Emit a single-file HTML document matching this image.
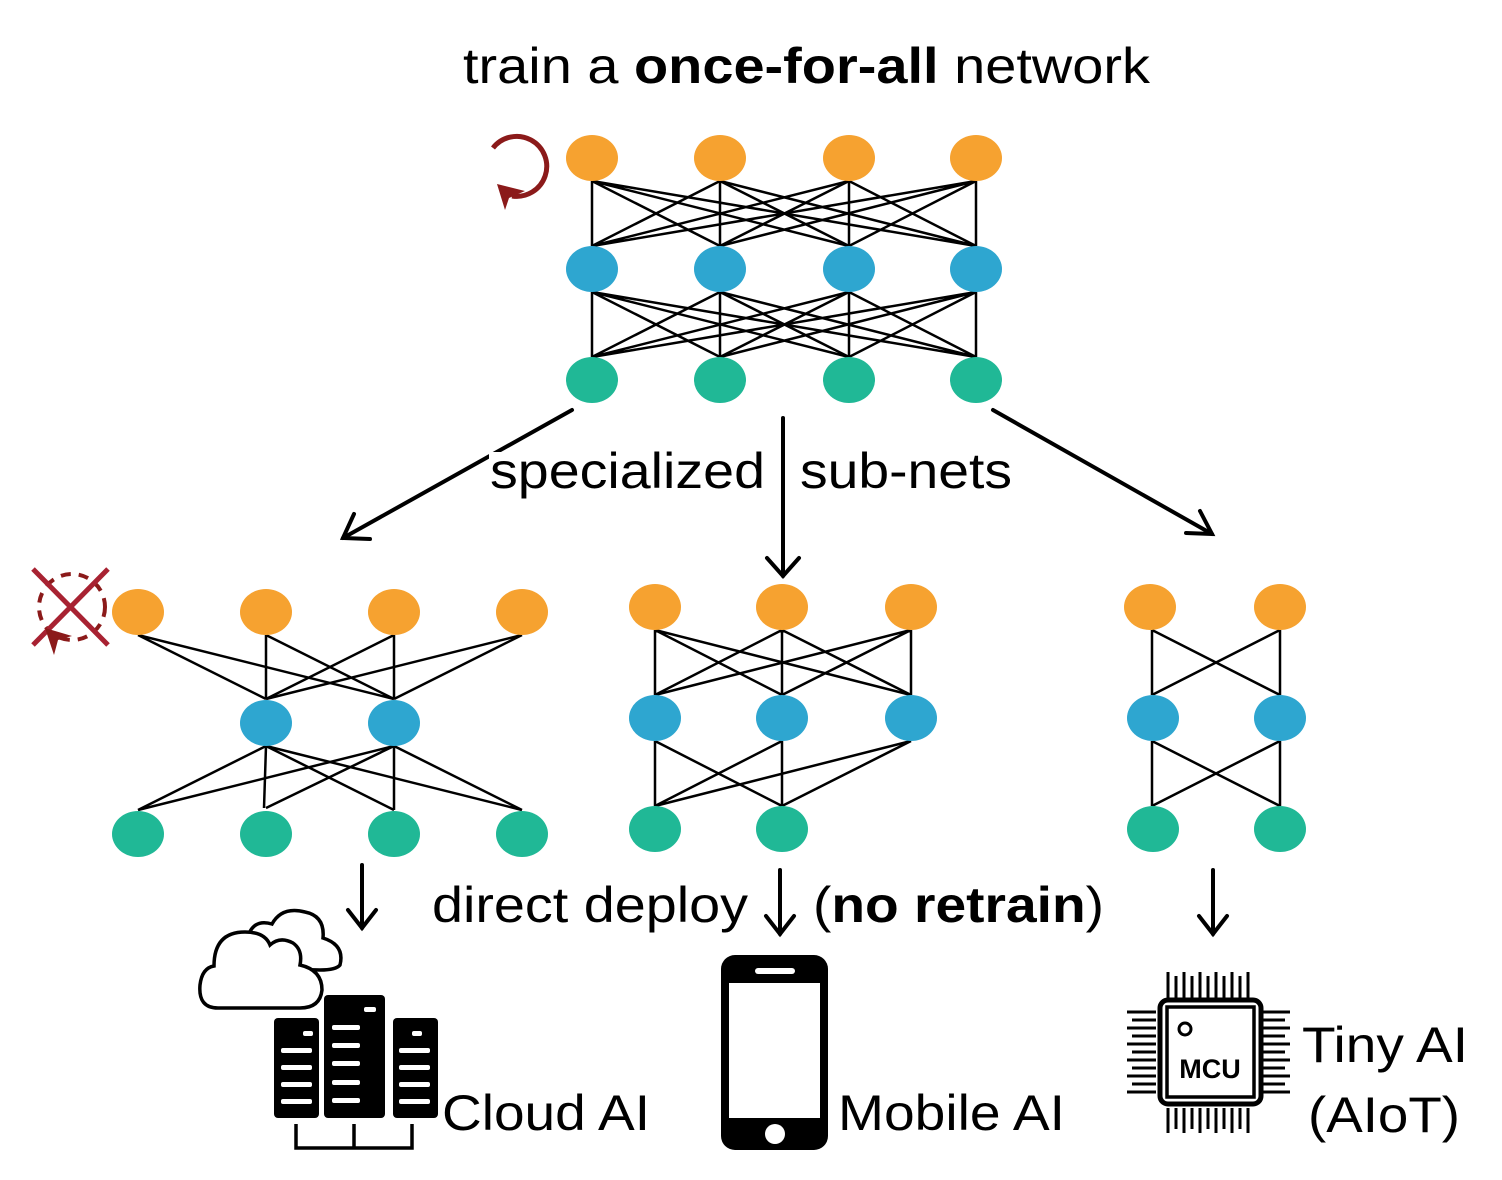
<!DOCTYPE html>
<html><head><meta charset="utf-8"><style>
html,body{margin:0;padding:0;background:#fff;}
svg{display:block;}
text{font-family:"Liberation Sans",Arial,sans-serif;fill:#000;}
</style></head><body>
<svg width="1502" height="1180" viewBox="0 0 1502 1180" xmlns="http://www.w3.org/2000/svg">
<rect width="1502" height="1180" fill="#fff"/>
<text x="463" y="83" font-size="50" textLength="687" lengthAdjust="spacingAndGlyphs">train a <tspan font-weight="bold">once-for-all</tspan> network</text>

<g stroke="#000" stroke-width="2.5" fill="none">
<path d="M592 181L592 246M592 181L720 246M592 181L849 246M592 181L976 246M720 181L592 246M720 181L720 246M720 181L849 246M720 181L976 246M849 181L592 246M849 181L720 246M849 181L849 246M849 181L976 246M976 181L592 246M976 181L720 246M976 181L849 246M976 181L976 246"/>
<path d="M592 292L592 357M592 292L720 357M592 292L849 357M592 292L976 357M720 292L592 357M720 292L720 357M720 292L849 357M720 292L976 357M849 292L592 357M849 292L720 357M849 292L849 357M849 292L976 357M976 292L592 357M976 292L720 357M976 292L849 357M976 292L976 357"/>
<path d="M138 635L266 699M138 635L394 699M266 635L266 699M266 635L394 699M394 635L266 699M394 635L394 699M522 635L266 699M522 635L394 699"/>
<path d="M266 746L138 810M266 746L264 808M266 746L394 810M266 746L522 810M394 746L138 810M394 746L266 808M394 746L394 810M394 746L522 810"/>
<path d="M655 630L655 695M655 630L782 695M655 630L911 695M782 630L655 695M782 630L782 695M782 630L911 695M911 630L655 695M911 630L782 695M911 630L911 695"/>
<path d="M655 741L655 806M655 741L782 806M782 741L655 806M782 741L782 806M911 741L655 806M911 741L782 806"/>
<path d="M1152 630L1152 695M1152 630L1280 695M1280 630L1152 695M1280 630L1280 695"/>
<path d="M1152 741L1152 806M1152 741L1280 806M1280 741L1152 806M1280 741L1280 806"/>
</g>

<g>
<g fill="#f6a230">
<ellipse cx="592" cy="158" rx="26" ry="23"/><ellipse cx="720" cy="158" rx="26" ry="23"/><ellipse cx="849" cy="158" rx="26" ry="23"/><ellipse cx="976" cy="158" rx="26" ry="23"/>
<ellipse cx="138" cy="612" rx="26" ry="23"/><ellipse cx="266" cy="612" rx="26" ry="23"/><ellipse cx="394" cy="612" rx="26" ry="23"/><ellipse cx="522" cy="612" rx="26" ry="23"/>
<ellipse cx="655" cy="607" rx="26" ry="23"/><ellipse cx="782" cy="607" rx="26" ry="23"/><ellipse cx="911" cy="607" rx="26" ry="23"/>
<ellipse cx="1150" cy="607" rx="26" ry="23"/><ellipse cx="1280" cy="607" rx="26" ry="23"/>
</g>
<g fill="#2ea6d0">
<ellipse cx="592" cy="269" rx="26" ry="23"/><ellipse cx="720" cy="269" rx="26" ry="23"/><ellipse cx="849" cy="269" rx="26" ry="23"/><ellipse cx="976" cy="269" rx="26" ry="23"/>
<ellipse cx="266" cy="723" rx="26" ry="23"/><ellipse cx="394" cy="723" rx="26" ry="23"/>
<ellipse cx="655" cy="718" rx="26" ry="23"/><ellipse cx="782" cy="718" rx="26" ry="23"/><ellipse cx="911" cy="718" rx="26" ry="23"/>
<ellipse cx="1153" cy="718" rx="26" ry="23"/><ellipse cx="1280" cy="718" rx="26" ry="23"/>
</g>
<g fill="#20b896">
<ellipse cx="592" cy="380" rx="26" ry="23"/><ellipse cx="720" cy="380" rx="26" ry="23"/><ellipse cx="849" cy="380" rx="26" ry="23"/><ellipse cx="976" cy="380" rx="26" ry="23"/>
<ellipse cx="138" cy="834" rx="26" ry="23"/><ellipse cx="266" cy="834" rx="26" ry="23"/><ellipse cx="394" cy="834" rx="26" ry="23"/><ellipse cx="522" cy="834" rx="26" ry="23"/>
<ellipse cx="655" cy="829" rx="26" ry="23"/><ellipse cx="782" cy="829" rx="26" ry="23"/>
<ellipse cx="1153" cy="829" rx="26" ry="23"/><ellipse cx="1280" cy="829" rx="26" ry="23"/>
</g>
</g>

<g stroke="#8b1a1a" stroke-width="5" fill="none">
<path d="M493 148 A30 30 0 1 1 512 196"/>
</g>
<path d="M497 184 L525 191 L509 198 L505 210 Z" fill="#8b1a1a"/>

<g stroke="#8b1a1a" stroke-width="4" fill="none">
<circle cx="72" cy="607" r="33" stroke-dasharray="10 8"/>
</g>
<g stroke="#a82232" stroke-width="5">
<line x1="33" y1="569" x2="108" y2="645"/><line x1="108" y1="569" x2="33" y2="645"/>
</g>
<path d="M45 628 L72 636 L58 640 L54 655 Z" fill="#8b1a1a"/>

<g stroke="#000" stroke-width="4" fill="none" stroke-linecap="round">
<line x1="572" y1="410" x2="343" y2="538"/>
<path d="M354 514 L343 538 L370 539"/>
<line x1="783" y1="418" x2="783" y2="576"/>
<path d="M767 558 L783 576 L799 558"/>
<line x1="993" y1="410" x2="1212" y2="534"/>
<path d="M1186 533 L1212 534 L1200 511"/>
<line x1="362" y1="865" x2="362" y2="928"/>
<path d="M348 910 L362 928 L376 910"/>
<line x1="780" y1="870" x2="780" y2="934"/>
<path d="M766 916 L780 934 L794 916"/>
<line x1="1213" y1="870" x2="1213" y2="934"/>
<path d="M1199 916 L1213 934 L1227 916"/>
</g>

<rect x="489" y="452" width="278" height="44" fill="#fff"/>
<rect x="797" y="452" width="218" height="44" fill="#fff"/>
<text x="490" y="488" font-size="50" textLength="275" lengthAdjust="spacingAndGlyphs">specialized</text>
<text x="800" y="488" font-size="50" textLength="212" lengthAdjust="spacingAndGlyphs">sub-nets</text>

<text x="432" y="922" font-size="50" textLength="316" lengthAdjust="spacingAndGlyphs">direct deploy</text>
<text x="813" y="922" font-size="50" textLength="291" lengthAdjust="spacingAndGlyphs">(<tspan font-weight="bold">no retrain</tspan>)</text>

<text x="442" y="1130" font-size="50" textLength="208" lengthAdjust="spacingAndGlyphs">Cloud AI</text>
<text x="838" y="1130" font-size="50" textLength="227" lengthAdjust="spacingAndGlyphs">Mobile AI</text>
<text x="1302" y="1062" font-size="50" textLength="166" lengthAdjust="spacingAndGlyphs">Tiny AI</text>
<text x="1308" y="1132" font-size="50" textLength="152" lengthAdjust="spacingAndGlyphs">(AIoT)</text>

<g fill="#fff" stroke="#000" stroke-width="3.5">
<path d="M238 968 Q228 950 247 940 Q252 918 272 924 Q282 906 305 912 Q325 916 323 938 Q345 945 340 965 Q336 970 320 970 Z"/>
<path d="M218 1008 Q198 1008 200 985 Q202 968 214 966 Q214 932 245 932 Q265 932 270 945 Q280 936 293 943 Q303 950 300 965 Q322 970 322 990 Q320 1008 300 1008 Z"/>
</g>

<g fill="#000">
<rect x="274" y="1018" width="45" height="100" rx="4"/>
<rect x="324" y="995" width="61" height="123" rx="4"/>
<rect x="393" y="1018" width="45" height="100" rx="4"/>
</g>
<g fill="#fff">
<rect x="303" y="1031" width="10" height="5" rx="2"/>
<rect x="281" y="1048" width="31" height="5" rx="2"/><rect x="281" y="1065" width="31" height="5" rx="2"/><rect x="281" y="1082" width="31" height="5" rx="2"/><rect x="281" y="1099" width="31" height="5" rx="2"/>
<rect x="364" y="1007" width="12" height="5" rx="2"/>
<rect x="332" y="1025" width="28" height="5" rx="2"/><rect x="332" y="1043" width="28" height="5" rx="2"/><rect x="332" y="1061" width="28" height="5" rx="2"/><rect x="332" y="1080" width="28" height="5" rx="2"/><rect x="332" y="1098" width="28" height="5" rx="2"/>
<rect x="412" y="1031" width="10" height="5" rx="2"/>
<rect x="399" y="1048" width="31" height="5" rx="2"/><rect x="399" y="1065" width="31" height="5" rx="2"/><rect x="399" y="1082" width="31" height="5" rx="2"/><rect x="399" y="1099" width="31" height="5" rx="2"/>
</g>
<path d="M296 1124 V1148 H412 V1124 M354 1124 V1148" stroke="#000" stroke-width="3.5" fill="none"/>

<rect x="721" y="955" width="107" height="195" rx="14" fill="#000"/>
<rect x="729" y="983" width="91" height="135" fill="#fff"/>
<rect x="755" y="968" width="40" height="6" rx="3" fill="#fff"/>
<circle cx="775" cy="1134" r="10" fill="#fff"/>

<g stroke="#000" stroke-width="3" fill="none">
<path d="M1168 972 V998 M1176 976 V998 M1184 972 V998 M1192 976 V998 M1200 972 V998 M1208 976 V998 M1216 972 V998 M1224 976 V998 M1232 972 V998 M1240 976 V998 M1248 972 V998"/>
<path d="M1168 1108 V1133 M1176 1108 V1129 M1184 1108 V1133 M1192 1108 V1129 M1200 1108 V1133 M1208 1108 V1129 M1216 1108 V1133 M1224 1108 V1129 M1232 1108 V1133 M1240 1108 V1129 M1248 1108 V1133"/>
<path d="M1127 1012 H1156 M1132 1020 H1156 M1127 1028 H1156 M1132 1036 H1156 M1127 1044 H1156 M1132 1052 H1156 M1127 1060 H1156 M1132 1068 H1156 M1127 1076 H1156 M1132 1084 H1156 M1127 1092 H1156"/>
<path d="M1263 1012 H1290 M1263 1020 H1285 M1263 1028 H1290 M1263 1036 H1285 M1263 1044 H1290 M1263 1052 H1285 M1263 1060 H1290 M1263 1068 H1285 M1263 1076 H1290 M1263 1084 H1285 M1263 1092 H1290"/>
</g>
<rect x="1160" y="1000" width="101" height="104" rx="8" fill="#fff" stroke="#000" stroke-width="5"/>
<rect x="1167" y="1007" width="87" height="90" fill="none" stroke="#000" stroke-width="3.5"/>
<circle cx="1185" cy="1029" r="6" fill="none" stroke="#000" stroke-width="3"/>
<text x="1210" y="1078" font-size="27" font-weight="bold" text-anchor="middle">MCU</text>
</svg>
</body></html>
